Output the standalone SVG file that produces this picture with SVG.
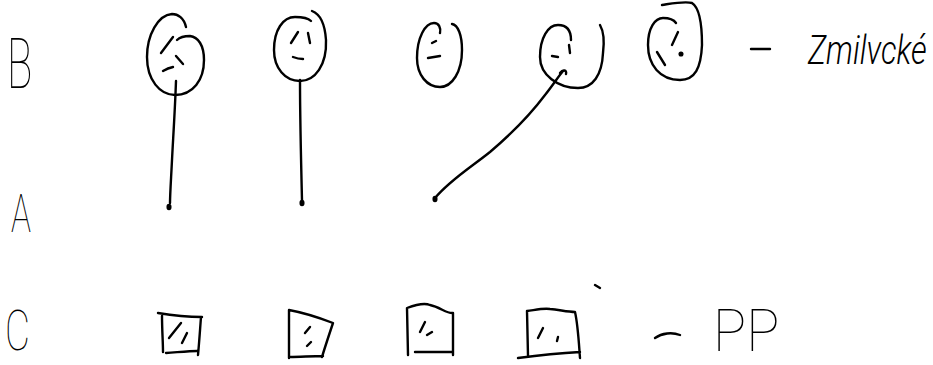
<svg xmlns="http://www.w3.org/2000/svg" width="933" height="365" viewBox="0 0 933 365">
<style>
.s{fill:none;stroke:#000;stroke-width:2.4;stroke-linecap:round;stroke-linejoin:round}
.d{fill:#000;stroke:#000;stroke-width:1.5}
.t{font-family:Roboto,"Liberation Sans",sans-serif;font-weight:100;fill:#000}
.w{font-family:Roboto,"Liberation Sans",sans-serif;font-weight:300;font-style:italic;fill:#000}
</style>
<rect width="933" height="365" fill="#fff"/>
<g id="labels">
<text class="t" font-size="70" transform="translate(7,88) scale(0.6,1)">B</text>
<text class="t" font-size="54" transform="translate(11,232) scale(0.62,1)">A</text>
<text class="t" font-size="55" transform="translate(5,350) scale(0.7,1)">C</text>
</g>
<g id="b1">
<path class="s" d="M186,27 C184,18 178,14 172,14 C158,15 147,35 147,57 C147,80 160,95 175,95 C193,95 204,80 204,60 C204,45 198,37 190,36 C185,36 180,37 177,40"/>
<path class="s" d="M173,37 L161,53 M176,56 L183,64 M163,71 Q168,68 173,67"/>
</g>
<g id="b2">
<path class="s" d="M312,11 C320,14 325,25 326,40 C327,65 315,81 300,81 C285,81 274,68 274,50 C274,30 283,17 295,17 C303,17 309,19 311,21"/>
<path class="s" d="M298,32 L291,43 M308,33 L310,43 M293,57 Q298,59 303,59"/>
</g>
<g id="b3">
<path class="s" d="M452,24 C458,25 462,35 462,50 C462,72 452,87 440,87 C427,87 417,75 417,58 C417,38 425,23 434,23 C439,23 441,28 440,33"/>
<path class="s" d="M432,43 L436,41 M428,58 L440,56"/>
</g>
<g id="b4">
<path class="s" d="M600,25 C604,32 604,45 603,53 C602,75 593,88 578,88 C558,88 540,75 540,57 C540,38 548,25 558,25 C568,25 571,32 571,40"/>
<path class="s" d="M569,45 L570,53 M552,56 L558,57"/>
</g>
<g id="b5">
<path class="s" d="M662,5 C675,3 685,1 692,3 C700,8 702,25 702,45 C701,68 695,80 680,80 C660,80 648,65 648,45 C648,28 655,18 663,18 C670,18 674,20 676,23"/>
<path class="s" d="M678,32 L672,45 M657,52 L665,65"/>
<circle class="d" cx="681" cy="54" r="1.8"/>
</g>
<g id="legend-b">
<path class="s" d="M751,49 L770,49"/>
<text class="w" font-size="40" transform="translate(808,64) scale(0.78,1)">Zmilvcké</text>
</g>
<g id="c1">
<path class="s" d="M158,313 C170,315 190,317 202,317 M162,316 C162,330 163,342 163,352 M201,317 C200,330 199,345 198,355 M166,353 C180,352 190,351 197,351"/>
<path class="s" d="M181,323 L169,338 M187,333 L182,343"/>
</g>
<g id="c2">
<path class="s" d="M289,358 L289,310 C300,312 320,318 333,323 C329,335 325,347 322,357 M290,357 C300,357 312,356 323,356"/>
<path class="s" d="M310,327 L305,333 M311,342 L307,346"/>
</g>
<g id="c3">
<path class="s" d="M408,355 L407,308 C415,305 425,303 430,305 C440,307 447,314 453,313 L453,355 M415,352 L452,352"/>
<path class="s" d="M425,322 L420,332 M427,335 L432,332"/>
</g>
<g id="c4">
<path class="s" d="M528,356 L527,311 C535,310 543,308 550,309 C560,310 568,312 575,312 C578,325 579,345 580,358 M518,358 C540,355 560,353 580,352"/>
<path class="s" d="M543,328 L538,338 M558,337 L557,341 M595,285 L600,288"/>
</g>
<g id="legend-c">
<path class="s" d="M655,338 C662,333 672,332 680,335"/>
<text class="t" font-size="60" transform="translate(713,351) scale(0.92,1)">PP</text>
</g>
<g id="connectors">
<path class="s" d="M176,81 C175,110 173,140 172,160 C171,180 170,195 170,203"/>
<ellipse class="d" cx="169" cy="207" rx="1.8" ry="2.5"/>
<path class="s" d="M300,80 C300,120 301,160 302,200"/>
<ellipse class="d" cx="302" cy="203" rx="1.8" ry="2.5"/>
<path class="s" d="M435,198 C450,180 470,168 490,152 C510,135 530,115 545,95 C553,85 558,77 563,71"/>
<path class="s" d="M560,73 C563,69 567,70 566,74"/>
<ellipse class="d" cx="435" cy="199" rx="1.8" ry="2.5"/>
</g>
</svg>
